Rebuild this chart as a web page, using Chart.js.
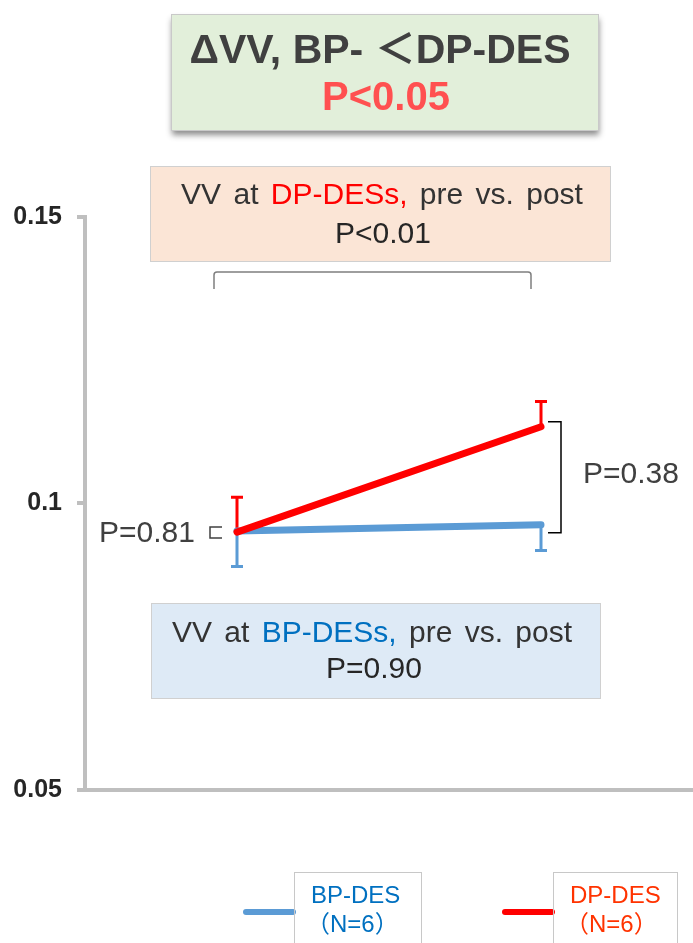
<!DOCTYPE html>
<html>
<head>
<meta charset="utf-8">
<script src="https://cdn.jsdelivr.net/npm/chart.js@4.4.1/dist/chart.umd.min.js"></script>
<style>
  html, body { margin: 0; padding: 0; background: #ffffff; }
  #wrap { width: 693px; height: 943px; position: relative; }
</style>
</head>
<body>
<div id="wrap"><canvas id="chart" width="693" height="943"></canvas></div>
<script>
// data
const categories = ['pre', 'post'];
const bpValues = [0.0952, 0.0963];
const dpValues = [0.0950, 0.1134];
const bpErrLower = [0.0062, 0.0045];
const dpErrUpper = [0.0061, 0.0044];
const yTicks = [0.05, 0.1, 0.15];
const seriesNames = ['BP-DES', 'DP-DES'];
const seriesN = ['（N=6）', '（N=6）'];

const BLUE = '#5B9BD5';
const RED = '#FF0000';
const FONT = '"Liberation Sans", Arial, "Noto Sans CJK JP", sans-serif';

// draws text made of coloured pieces, centred on cx
function drawRuns(ctx, runs, cx, y, font) {
    ctx.font = font;
    ctx.textAlign = 'left';
    ctx.textBaseline = 'alphabetic';
    let total = 0;
    runs.forEach(r => { total += ctx.measureText(r[0]).width; });
    let x = cx - total / 2;
    runs.forEach(r => {
        ctx.fillStyle = r[1];
        ctx.fillText(r[0], x, y);
        x += ctx.measureText(r[0]).width;
    });
}

function drawErrorBars(ctx, xScale, yScale, values, errs, dir, color) {
    ctx.save();
    ctx.strokeStyle = color;
    ctx.lineWidth = 3;
    values.forEach((v, i) => {
        const x = xScale.getPixelForValue(i);
        const y0 = yScale.getPixelForValue(v);
        const y1 = yScale.getPixelForValue(v + dir * errs[i]);
        ctx.beginPath();
        ctx.moveTo(x, y0);
        ctx.lineTo(x, y1);
        ctx.moveTo(x - 6, y1);
        ctx.lineTo(x + 6, y1);
        ctx.stroke();
    });
    ctx.restore();
}

const annotations = {
    id: 'annotations',
    beforeDatasetsDraw(chart) {
        const ctx = chart.ctx;
        const xs = chart.scales.x, ys = chart.scales.y;
        drawErrorBars(ctx, xs, ys, bpValues, bpErrLower, -1, BLUE);
        drawErrorBars(ctx, xs, ys, dpValues, dpErrUpper, 1, RED);
    },
    afterDraw(chart) {
        const ctx = chart.ctx;
        const xs = chart.scales.x, ys = chart.scales.y;
        const xPre = xs.getPixelForValue(0), xPost = xs.getPixelForValue(1);
        ctx.save();

        // title box with shadow
        ctx.save();
        ctx.shadowColor = 'rgba(0,0,0,0.45)';
        ctx.shadowBlur = 6;
        ctx.shadowOffsetX = 1;
        ctx.shadowOffsetY = 5;
        ctx.fillStyle = '#E2EFDA';
        ctx.fillRect(171, 14, 427, 116);
        ctx.restore();
        ctx.strokeStyle = '#C9C9C9';
        ctx.lineWidth = 1;
        ctx.strokeRect(171.5, 14.5, 427, 116);
        drawRuns(ctx, [['ΔVV, BP- ＜DP-DES', '#404040']], 380, 63, 'bold 41px ' + FONT);
        drawRuns(ctx, [['P<0.05', '#FF5050']], 386, 110, 'bold 40px ' + FONT);

        // DP-DES pre vs post box
        ctx.fillStyle = '#FBE5D6';
        ctx.fillRect(150, 166, 460, 95);
        ctx.strokeStyle = '#D0D0D0';
        ctx.strokeRect(150.5, 166.5, 460, 95);
        ctx.wordSpacing = '4px';
        drawRuns(ctx, [['VV at ', '#333333'], ['DP-DESs,', '#FF0000'], [' pre vs. post', '#333333']],
            382, 204, '30px ' + FONT);
        ctx.wordSpacing = '0px';
        drawRuns(ctx, [['P<0.01', '#262626']], 383, 243, '30px ' + FONT);

        // bracket under the box
        ctx.strokeStyle = '#7F7F7F';
        ctx.lineWidth = 1.5;
        ctx.beginPath();
        ctx.moveTo(xPre - 23, 289);
        ctx.lineTo(xPre - 23, 275);
        ctx.quadraticCurveTo(xPre - 23, 272, xPre - 20, 272);
        ctx.lineTo(xPost - 13, 272);
        ctx.quadraticCurveTo(xPost - 10, 272, xPost - 10, 275);
        ctx.lineTo(xPost - 10, 289);
        ctx.stroke();

        // BP-DES pre vs post box
        ctx.fillStyle = '#DEEAF6';
        ctx.fillRect(151, 603, 449, 95);
        ctx.strokeStyle = '#D0D0D0';
        ctx.lineWidth = 1;
        ctx.strokeRect(151.5, 603.5, 449, 95);
        ctx.wordSpacing = '4px';
        drawRuns(ctx, [['VV at ', '#333333'], ['BP-DESs,', '#0070C0'], [' pre vs. post', '#333333']],
            372, 642, '30px ' + FONT);
        ctx.wordSpacing = '0px';
        drawRuns(ctx, [['P=0.90', '#262626']], 374, 678, '30px ' + FONT);

        // right bracket between the post values
        const yRedPost = ys.getPixelForValue(dpValues[1]);
        const yBluePost = ys.getPixelForValue(bpValues[1]);
        ctx.strokeStyle = '#000000';
        ctx.lineWidth = 1.5;
        ctx.beginPath();
        ctx.moveTo(xPost + 7, yRedPost - 5);
        ctx.lineTo(xPost + 20, yRedPost - 5);
        ctx.lineTo(xPost + 20, yBluePost + 8);
        ctx.lineTo(xPost + 7, yBluePost + 8);
        ctx.stroke();
        drawRuns(ctx, [['P=0.38', '#404040']], 631, 483, '30px ' + FONT);

        // small bracket at pre
        const yPre = ys.getPixelForValue(bpValues[0]);
        ctx.strokeStyle = '#404040';
        ctx.beginPath();
        ctx.moveTo(xPre - 15, yPre - 4);
        ctx.lineTo(xPre - 27, yPre - 4);
        ctx.lineTo(xPre - 27, yPre + 7);
        ctx.lineTo(xPre - 15, yPre + 7);
        ctx.stroke();
        drawRuns(ctx, [['P=0.81', '#404040']], 147, 542, '30px ' + FONT);

        // legend
        const legendColors = [BLUE, RED];
        const textColors = ['#0070C0', '#FF3300'];
        const legendX = [246, 505];
        legendColors.forEach((c, i) => {
            const lx = legendX[i];
            ctx.strokeStyle = c;
            ctx.lineWidth = 6;
            ctx.lineCap = 'round';
            ctx.beginPath();
            ctx.moveTo(lx, 912);
            ctx.lineTo(lx + 47, 912);
            ctx.stroke();
            ctx.lineCap = 'butt';
            ctx.strokeStyle = '#C8C8C8';
            ctx.lineWidth = 1;
            const bx = lx + 48;
            const bw = i === 0 ? 127 : 124;
            ctx.strokeRect(bx + 0.5, 872.5, bw, 80);
            ctx.fillStyle = textColors[i];
            ctx.font = '24px ' + FONT;
            ctx.textAlign = 'left';
            ctx.fillText(seriesNames[i], bx + 17, 903);
            ctx.fillText(seriesN[i], bx + 12, 932);
        });
        ctx.restore();
    }
};

new Chart(document.getElementById('chart'), {
    type: 'line',
    data: {
        labels: categories,
        datasets: [
            { label: seriesNames[1], data: dpValues, borderColor: RED, borderWidth: 7, order: 0 },
            { label: seriesNames[0], data: bpValues, borderColor: BLUE, borderWidth: 7, order: 1 }
        ]
    },
    options: {
        responsive: false,
        animation: false,
        devicePixelRatio: 1,
        elements: {
            line: { tension: 0, borderCapStyle: 'round', borderJoinStyle: 'round' },
            point: { radius: 0, hoverRadius: 0 }
        },
        layout: { padding: { top: 217, bottom: 153, left: 0, right: 0 } },
        plugins: { legend: { display: false }, tooltip: { enabled: false } },
        scales: {
            x: {
                type: 'category',
                offset: true,
                ticks: { display: false },
                grid: { display: false },
                border: { display: true, color: '#BFBFBF', width: 4 },
                afterFit: s => { s.height = 0; }
            },
            y: {
                min: 0.05,
                max: 0.15,
                afterBuildTicks: s => { s.ticks = yTicks.map(v => ({ value: v })); },
                ticks: {
                    padding: 15,
                    color: '#262626',
                    font: { family: FONT, size: 25, weight: 'bold' },
                    callback: v => String(v)
                },
                grid: { drawOnChartArea: false, drawTicks: true, tickLength: 8, color: '#BFBFBF', lineWidth: 4 },
                border: { display: true, color: '#BFBFBF', width: 4 },
                afterFit: s => { s.width = 85; }
            }
        }
    },
    plugins: [annotations]
});
</script>
</body>
</html>
